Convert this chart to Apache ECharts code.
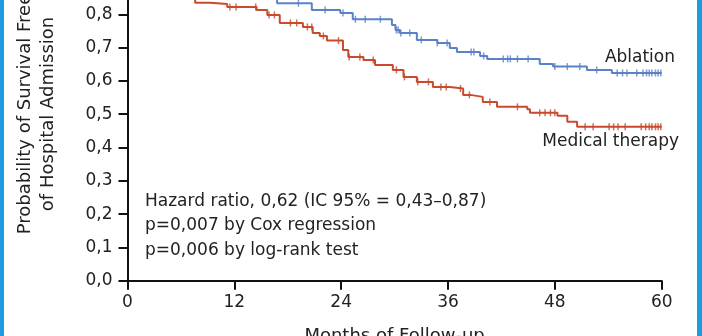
<!DOCTYPE html>
<html>
<head>
<meta charset="utf-8">
<script src="https://cdn.jsdelivr.net/npm/echarts@6/dist/echarts.min.js"></script>
<style>html,body{margin:0;padding:0;background:#fff}#c{width:702px;height:336px}</style>
</head>
<body>
<div id="c"></div>
<script>
// Kaplan-Meier steps: [month, survival after that month]
const ablationSteps = [
  [0,1.0],[2.5,0.98],[5,0.96],[8,0.93],[11,0.90],[13.5,0.875],[15,0.86],
  [16.8,0.833],[20.7,0.813],[23.9,0.804],[25.3,0.785],[29.7,0.768],[30.1,0.753],
  [30.6,0.744],[32.5,0.723],[34.8,0.714],[36.2,0.699],[37.0,0.687],[39.6,0.675],
  [40.4,0.666],[46.3,0.651],[47.8,0.643],[51.6,0.633],[54.4,0.624],[60,0.624]
];
const medicalSteps = [
  [0,1.0],[1.5,0.97],[3,0.94],[4.5,0.91],[6,0.88],[7,0.86],
  [7.6,0.835],[9.3,0.831],[11.2,0.822],[14.5,0.813],[15.7,0.798],[17.1,0.774],
  [19.7,0.762],[20.8,0.744],[21.6,0.735],[22.4,0.721],[24.2,0.693],[24.8,0.672],
  [26.5,0.663],[27.8,0.648],[29.8,0.633],[31.0,0.612],[32.5,0.597],[34.3,0.582],
  [36.2,0.577],[37.7,0.558],[38.5,0.552],[39.9,0.537],[41.5,0.522],[44.9,0.515],
  [45.2,0.504],[48.3,0.495],[49.4,0.477],[50.5,0.462],[60,0.462]
];
// censoring times (months)
const ablationCensor = [19.2,22.2,24.2,25.6,26.7,28.4,30.2,30.4,30.7,31.7,33.0,34.8,35.9,
  38.6,38.9,40.0,42.2,42.7,43.0,43.8,45.0,48.0,49.4,50.8,52.7,55.0,55.6,56.1,57.2,57.9,
  58.3,58.6,58.9,59.3,59.6,59.9];
const medicalCensor = [11.5,12.2,14.4,15.9,16.5,18.3,19.0,20.2,20.7,22.0,23.7,24.9,26.1,27.6,
  30.2,31.1,32.6,33.8,35.2,35.8,37.4,38.4,40.7,43.8,46.3,46.9,47.5,48.0,51.4,52.3,54.1,
  54.6,55.1,55.9,57.7,58.2,58.6,58.9,59.3,59.6,59.9];
const xTicks = [0,12,24,36,48,60];
const yTickLabels = ['0,0','0,1','0,2','0,3','0,4','0,5','0,6','0,7','0,8','0,9','1,0'];
const seriesNames = ['Ablation','Medical therapy'];
const yTitle = ['Probability of Survival Free','of Hospital Admission'];
const xTitle = 'Months of Follow-up';
const statsText = ['Hazard ratio, 0,62 (IC 95% = 0,43\u20130,87)','p=0,007 by Cox regression','p=0,006 by log-rank test'];

function survAt(steps, t){ let s = steps[0][1]; for (const p of steps){ if (p[0] <= t) s = p[1]; } return s; }

const BLUE = '#5b82c6', RED = '#c94a2c', TXT = '#222222';
const FONT = '"DejaVu Sans"';
const chart = echarts.init(document.getElementById('c'), null, {renderer:'canvas'});
chart.setOption({
  animation:false,
  backgroundColor:'#ffffff',
  grid:{left:127.5, top:-52.3, width:534.2, height:333, containLabel:false, outerBoundsMode:'none'},
  xAxis:{type:'value', min:0, max:60, interval:12,
    name:xTitle, nameLocation:'middle', nameGap:47,
    nameTextStyle:{fontFamily:FONT, fontSize:18, color:TXT},
    axisLine:{show:true, lineStyle:{color:'#111', width:2}},
    axisTick:{show:true, length:9, lineStyle:{color:'#111', width:2}},
    axisLabel:{fontFamily:FONT, fontSize:17, color:TXT, margin:13,
      formatter:v => xTicks.includes(v) ? String(v) : ''},
    splitLine:{show:false}},
  yAxis:{type:'value', min:0, max:1, interval:0.1,
    axisLine:{show:true, lineStyle:{color:'#111', width:2}},
    axisTick:{show:true, length:9, lineStyle:{color:'#111', width:2}},
    axisLabel:{fontFamily:FONT, fontSize:17, color:TXT, margin:15,
      formatter:v => yTickLabels[Math.round(v*10)]},
    splitLine:{show:false}},
  graphic:[
    {type:'rect', shape:{x:0,y:0,width:4,height:336}, style:{fill:'#1e9be0'}},
    {type:'rect', shape:{x:697,y:0,width:5,height:336}, style:{fill:'#1e9be0'}},
    {type:'text', x:25, y:114, rotation:Math.PI/2, style:{text:yTitle[0], fill:TXT, font:'18px '+FONT, textAlign:'center', textVerticalAlign:'middle'}},
    {type:'text', x:48, y:114, rotation:Math.PI/2, style:{text:yTitle[1], fill:TXT, font:'18px '+FONT, textAlign:'center', textVerticalAlign:'middle'}},
    {type:'text', x:145, y:202, style:{text:statsText[0], fill:TXT, font:'17px '+FONT, textVerticalAlign:'middle'}},
    {type:'text', x:145, y:226, style:{text:statsText[1], fill:TXT, font:'17px '+FONT, textVerticalAlign:'middle'}},
    {type:'text', x:145, y:251, style:{text:statsText[2], fill:TXT, font:'17px '+FONT, textVerticalAlign:'middle'}},
    {type:'text', x:675, y:58, style:{text:seriesNames[0], fill:TXT, font:'17px '+FONT, textAlign:'right', textVerticalAlign:'middle'}},
    {type:'text', x:679, y:142, style:{text:seriesNames[1], fill:TXT, font:'17px '+FONT, textAlign:'right', textVerticalAlign:'middle'}}
  ],
  series:[
    {name:seriesNames[0], type:'line', step:'end', data:ablationSteps, showSymbol:false,
      lineStyle:{color:BLUE, width:2}, z:3},
    {name:seriesNames[1], type:'line', step:'end', data:medicalSteps, showSymbol:false,
      lineStyle:{color:RED, width:2}, z:3},
    {type:'scatter', data:ablationCensor.map(t => [t, survAt(ablationSteps, t)]),
      symbol:'rect', symbolSize:[1.5,7], itemStyle:{color:BLUE}, z:4},
    {type:'scatter', data:medicalCensor.map(t => [t, survAt(medicalSteps, t)]),
      symbol:'rect', symbolSize:[1.5,7], itemStyle:{color:RED}, z:4}
  ]
});
</script>
</body>
</html>
